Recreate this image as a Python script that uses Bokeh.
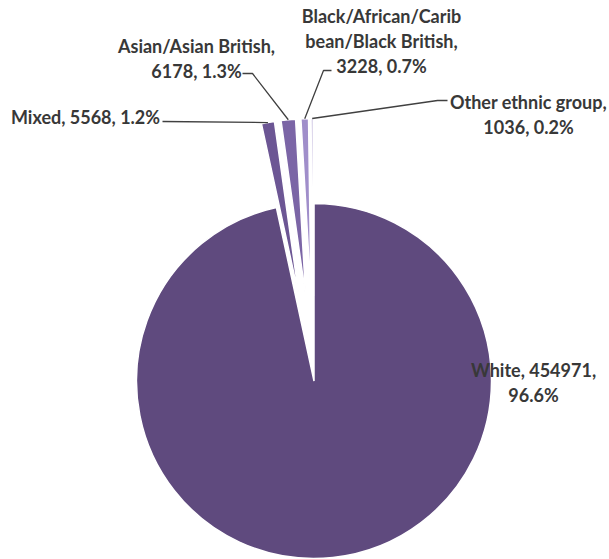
import math
from bokeh.plotting import figure
from bokeh.models import Range1d
from bokeh.core.properties import value
from bokeh.embed import file_html
from bokeh.resources import INLINE

# ---- data ----
categories = ["White", "Mixed", "Asian/Asian British",
              "Black/African/Caribbean/Black British", "Other ethnic group"]
counts = [454971, 5568, 6178, 3228, 1036]
label_lines = [
    ["White, 454971,", "96.6%"],
    ["Mixed, 5568, 1.2%"],
    ["Asian/Asian British,", "6178, 1.3%"],
    ["Black/African/Carib", "bean/Black British,", "3228, 0.7%"],
    ["Other ethnic group,", "1036, 0.2%"],
]
colors = ["#5F4A7E", "#6C5694", "#7B65A6", "#A08ECA", "#CDC4E3"]

# ---- layout (pixel space, y measured from top) ----
W, H = 609, 559
CX, CY = 313.5, 380.5
R = 177.5
EXPLODE = 85
LINE_H = 25
label_pos = [(533, 369), (85, 116), (196, 45), (381, 15), (528, 101)]
leader_start = [None, [(162, 121)], [(242, 73), (252, 73)],
                [(331, 70), (323, 70)], [(447, 100), (437, 100)]]

p = figure(width=W, height=H, output_backend="svg", toolbar_location=None,
           x_range=Range1d(0, W), y_range=Range1d(0, H), min_border=0)
p.axis.visible = False
p.grid.visible = False
p.outline_line_color = None
p.background_fill_color = "white"
p.border_fill_color = "white"

total = float(sum(counts))
cum = 0.0
wx, wy, ws, we = [], [], [], []
targets = []
for i, c in enumerate(counts):
    a0 = 90 - 360 * cum / total
    cum += c
    a1 = 90 - 360 * cum / total
    mid = math.radians((a0 + a1) / 2)
    off = 0 if i == 0 else EXPLODE
    cx = CX + off * math.cos(mid)
    cy = (H - CY) + off * math.sin(mid)
    wx.append(cx)
    wy.append(cy)
    ws.append(math.radians(a1))
    we.append(math.radians(a0))
    targets.append((cx + R * math.cos(mid), cy + R * math.sin(mid)))

p.wedge(x=wx, y=wy, radius=R, start_angle=ws, end_angle=we,
        direction="anticlock", fill_color=colors, line_color="white",
        line_width=1.5)

# leader lines
xs, ys = [], []
for i, st in enumerate(leader_start):
    if st is None:
        continue
    pts = [(x, H - y) for (x, y) in st] + [targets[i]]
    xs.append([q[0] for q in pts])
    ys.append([q[1] for q in pts])
p.multi_line(xs=xs, ys=ys, line_color="#404040", line_width=1.3)

# labels
tx, ty, tt = [], [], []
for (lx, ly), lines in zip(label_pos, label_lines):
    for k, s in enumerate(lines):
        tx.append(lx)
        ty.append(H - (ly + k * LINE_H))
        tt.append(s)
p.text(x=tx, y=ty, text=tt, text_align="center", text_baseline="middle",
       text_font=value("Lato"), text_font_style="bold",
       text_font_size="18px", text_color="#383838")

open("out.html", "w").write(file_html(p, INLINE))
